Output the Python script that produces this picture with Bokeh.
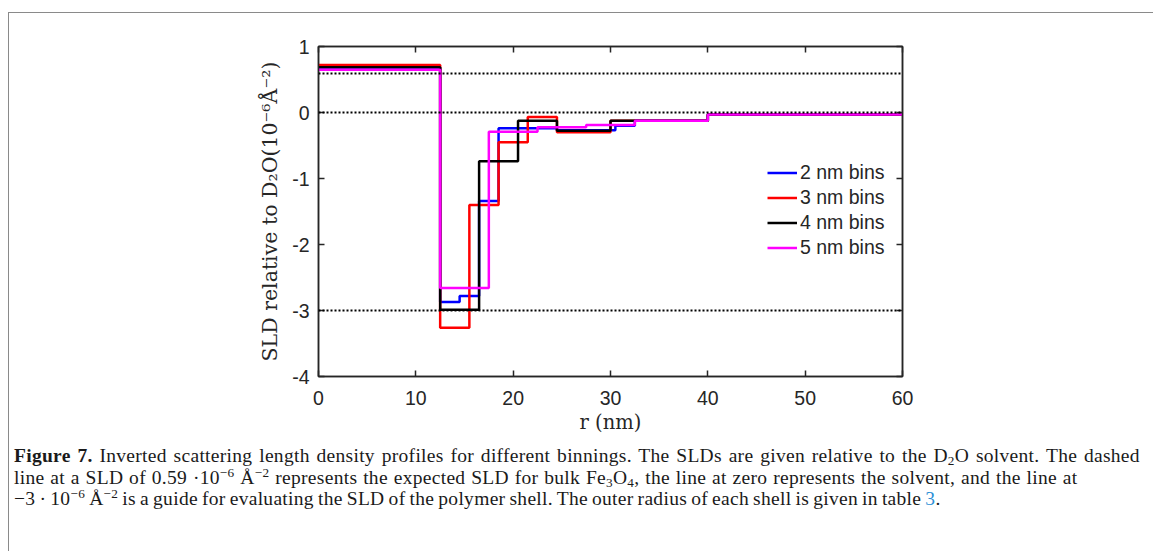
from bokeh.plotting import figure
from bokeh.models import (Span, Legend, LegendItem, LinearAxis, Range1d, FixedTicker, Div)
from bokeh.layouts import column
from bokeh.embed import file_html
from bokeh.resources import INLINE

# ---------------- data ----------------
edges_2nm = [0, 12.5, 14.5, 16.5, 18.5, 20.5, 22.5, 24.5, 30.5, 32.5, 40, 60]
sld_2nm = [0.68, -2.87, -2.78, -1.34, -0.24, -0.24, -0.24, -0.27, -0.20, -0.125, -0.03]
edges_3nm = [0, 12.5, 15.5, 18.5, 21.5, 24.5, 30, 32.5, 40, 60]
sld_3nm = [0.72, -3.26, -1.40, -0.45, -0.07, -0.30, -0.125, -0.125, -0.03]
edges_4nm = [0, 12.5, 16.5, 20.5, 24.5, 30, 32.5, 40, 60]
sld_4nm = [0.685, -2.99, -0.74, -0.125, -0.277, -0.125, -0.125, -0.03]
edges_5nm = [0, 12.5, 17.5, 22.5, 27.5, 32.5, 40, 60]
sld_5nm = [0.646, -2.66, -0.29, -0.225, -0.19, -0.125, -0.03]
series_labels = ["2 nm bins", "3 nm bins", "4 nm bins", "5 nm bins"]
series_colors = ["#0000ff", "#ff0000", "#000000", "#ff00ff"]
guide_levels = [0.59, 0.0, -3.0]
x_ticks = [0, 10, 20, 30, 40, 50, 60]
y_ticks = [-4, -3, -2, -1, 0, 1]
x_label = "r (nm)"
y_label = "SLD relative to D\u2082O(10\u207b\u2076\u00c5\u207b\u00b2)"

SUB = '<span style="font-size:68%;vertical-align:-0.25em;line-height:0">{}</span>'
SUP = '<span style="font-size:68%;vertical-align:0.55em;line-height:0">{}</span>'
cap_line1 = ("<b>Figure 7.</b> Inverted scattering length density profiles for different binnings. "
             "The SLDs are given relative to the D" + SUB.format("2") + "O solvent. The dashed")
cap_line2 = ("line at a SLD of 0.59 \u00b710" + SUP.format("\u22126") + " \u00c5" + SUP.format("\u22122") +
             " represents the expected SLD for bulk Fe" + SUB.format("3") + "O" + SUB.format("4") +
             ", the line at zero represents the solvent, and the line at")
cap_line3 = ("\u22123 \u00b7 10" + SUP.format("\u22126") + " \u00c5" + SUP.format("\u22122") +
             " is a guide for evaluating the SLD of the polymer shell. The outer radius of each "
             "shell is given in table <span style=\"color:#2b8fd6\">3</span>.")

# ---------------- layout constants ----------------
PAGE_W, PAGE_H = 1153, 551
OX, OY = 9, 13                       # inner origin of the grey panel frame
FL, FR, FT, FB = 318, 902, 46, 376   # plot frame edges in page pixels
FIG_W = PAGE_W - OX
FIG_H = 440 - OY
AX = "#262626"
TICK_FONT = "Liberation Sans"
SERIF = "DejaVu Serif"
CAP_FONT = "Liberation Serif"

p = figure(width=FIG_W, height=FIG_H, x_range=Range1d(0, 60), y_range=Range1d(-4, 1),
           output_backend="svg", toolbar_location=None,
           min_border_left=FL - OX, min_border_right=FIG_W - (FR - OX),
           min_border_top=FT - OY, min_border_bottom=FIG_H - (FB - OY))
p.grid.visible = False
p.outline_line_color = AX
p.outline_line_width = 1.5
p.background_fill_color = "white"
p.border_fill_color = "white"

bottom_ax = p.below[0]
left_ax = p.left[0]
bottom_ax.ticker = FixedTicker(ticks=x_ticks)
left_ax.ticker = FixedTicker(ticks=y_ticks)
left_ax.major_label_overrides = {t: str(t) for t in y_ticks}
bottom_ax.axis_label = x_label
left_ax.axis_label = y_label

top_ax = LinearAxis(ticker=FixedTicker(ticks=x_ticks))
right_ax = LinearAxis(ticker=FixedTicker(ticks=y_ticks))
p.add_layout(top_ax, "above")
p.add_layout(right_ax, "right")

for ax in [bottom_ax, left_ax, top_ax, right_ax]:
    ax.axis_line_color = AX
    ax.axis_line_width = 1.5
    ax.major_tick_line_color = AX
    ax.major_tick_line_width = 1.5
    ax.major_tick_in = 6
    ax.major_tick_out = 0
    ax.minor_tick_line_color = None
    ax.major_label_text_font = TICK_FONT
    ax.major_label_text_font_size = "19.5px"
    ax.major_label_text_color = AX
    ax.axis_label_text_font = SERIF
    ax.axis_label_text_font_size = "20.5px"
    ax.axis_label_text_font_style = "normal"
    ax.axis_label_text_color = AX
for ax in [top_ax, right_ax]:
    ax.major_label_text_font_size = "0px"
    ax.major_label_text_color = None
bottom_ax.axis_label_text_font_size = "19.5px"

bottom_ax.major_label_standoff = 14
bottom_ax.axis_label_standoff = 3
left_ax.major_label_standoff = 9
left_ax.axis_label_standoff = 7

# guide lines
for lev in guide_levels:
    p.add_layout(Span(location=lev, dimension="width", line_color="black",
                      line_width=2, line_dash="2 2"))

# step profiles
items = []
for edges, vals, lab, col in [(edges_2nm, sld_2nm, series_labels[0], series_colors[0]),
                              (edges_3nm, sld_3nm, series_labels[1], series_colors[1]),
                              (edges_4nm, sld_4nm, series_labels[2], series_colors[2]),
                              (edges_5nm, sld_5nm, series_labels[3], series_colors[3])]:
    r = p.step(edges, list(vals) + [vals[-1]], mode="after", line_color=col, line_width=2.5)
    items.append(LegendItem(label=lab, renderers=[r]))

legend = Legend(items=items, location=(767 - FL, FB - 260))
legend.background_fill_alpha = 0
legend.border_line_alpha = 0
legend.label_text_font = TICK_FONT
legend.label_text_font_size = "19.5px"
legend.label_text_color = AX
legend.glyph_width = 30
legend.glyph_height = 25
legend.label_height = 25
legend.spacing = 0
legend.padding = 0
legend.margin = 0
legend.label_standoff = 3
p.add_layout(legend)

# caption (per-line word spacing mimics the justified typesetting of the original)
LINE = '<div style="word-spacing:{}px">{}</div>'
cap_html = ('<div style="padding:0;margin:0;font-family:\'%s\';font-size:19.5px;line-height:21.5px;'
            'letter-spacing:0.3px;color:#1a1a1a;white-space:nowrap">%s%s%s</div>'
            % (CAP_FONT, LINE.format(1.6, cap_line1), LINE.format(0.65, cap_line2),
               LINE.format(-1.1, cap_line3)))
cap_div = Div(text=cap_html, width=FIG_W, height=PAGE_H - 440)

layout = column(p, cap_div, spacing=0, margin=(OY - 1, 0, 0, OX - 1),
                styles={"border-left": "1px solid #8a8a8a", "border-top": "1px solid #8a8a8a"})

open("out.html", "w").write(file_html(layout, INLINE))
